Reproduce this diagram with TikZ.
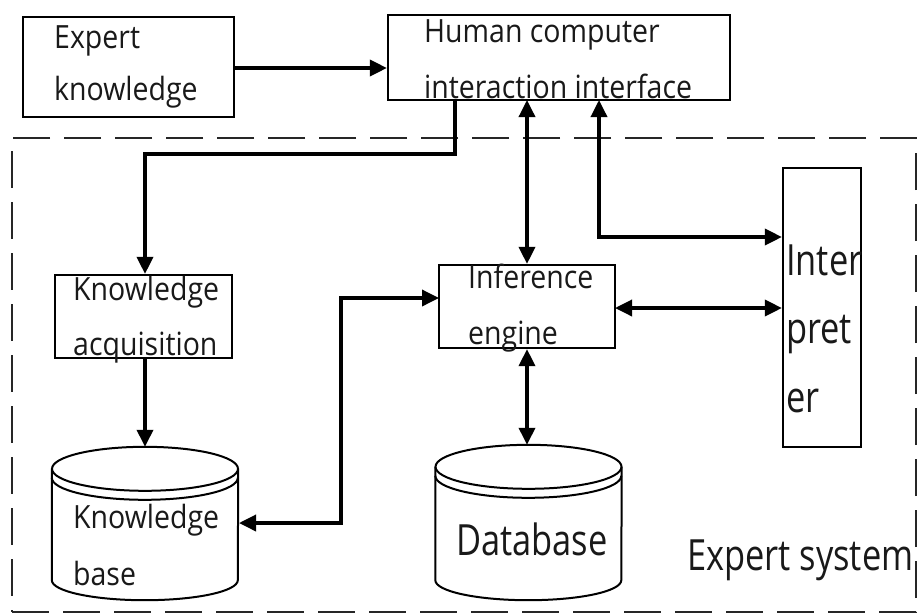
\documentclass[tikz,border=0pt]{standalone}
\usepackage{fontspec}
\setmainfont{Open Sans}
\newfontfamily\lblfont{Open Sans}[FakeStretch=0.89]
\newfontfamily\bigfont{Open Sans}[FakeStretch=0.8]
\usetikzlibrary{arrows.meta,calc}

\tikzset{
  box/.style={draw=black, line width=2.2pt, inner sep=0pt, rectangle},
  conn/.style={line width=3.5pt, draw=black},
  tip/.style={-{Triangle[length=17pt,width=16pt]}},
  tips/.style={{Triangle[length=17pt,width=16pt]}-{Triangle[length=17pt,width=16pt]}},
  lbl/.style={anchor=base west, inner sep=0pt, text=black!90,
    font=\lblfont\fontsize{32pt}{38pt}\selectfont},
  biglbl/.style={anchor=base west, inner sep=0pt, text=black!90,
    font=\bigfont\fontsize{43pt}{50pt}\selectfont},
  drumzone/.style={inner sep=0pt, minimum width=186pt, minimum height=153pt},
  frame/.style={draw=black!85, line width=2.4pt, dash pattern=on 37pt off 14pt}
}

% storage drum: top ellipse, a second front rim, sides and a rounded bottom
\newcommand\drawdrum[1]{%
  \draw[line width=2pt] ([yshift=-22pt]#1.north) ellipse [x radius=93pt, y radius=22pt];
  \draw[line width=2pt] ([yshift=-31pt]#1.north west)
     arc [start angle=180, end angle=360, x radius=93pt, y radius=22pt];
  \draw[line width=2pt] ([yshift=-22pt]#1.north west) -- ([yshift=20pt]#1.south west)
     arc [start angle=180, end angle=360, x radius=93pt, y radius=20pt]
     -- ([yshift=-22pt]#1.north east);
}

\begin{document}
\begin{tikzpicture}[x=1pt, y=-1pt]
  \useasboundingbox[fill=white] (0,0) rectangle (917,614);

  % expert system boundary
  \node[frame, inner sep=0pt, minimum width=904pt, minimum height=474pt] (esys) at (464,375) {};

  % boxes
  \node[box, minimum width=211pt, minimum height=100pt] (ek)  at (128.5,67) {};
  \node[box, minimum width=342pt, minimum height=85pt]  (hci) at (559,57.5) {};
  \node[box, minimum width=177pt, minimum height=83pt]  (ka)  at (143.5,316.5) {};
  \node[box, minimum width=176pt, minimum height=83pt]  (ie)  at (527,306.5) {};
  \node[box, minimum width=78pt,  minimum height=279pt] (ip)  at (822,307.5) {};

  % drums
  \node[drumzone] (kb) at (145,523.5) {};
  \node[drumzone, minimum height=155pt] (db) at (528.5,522.5) {};
  \drawdrum{kb}
  \drawdrum{db}

  % labels
  \node[lbl] (ek1) at (54,48)  {Expert};
  \node[lbl] (ek2) at (54,100) {knowledge};
  \node[lbl] (hci1) at (424,42) {Human computer};
  \node[lbl] (hci2) at (424,98) {interaction interface};
  \node[lbl] (ka1) at (73,300) {Knowledge};
  \node[lbl] (ka2) at (73,355) {acquisition};
  \node[lbl] (ie1) at (468,288) {Inference};
  \node[lbl] (ie2) at (468,344) {engine};
  \node[lbl] (kb1) at (73,528) {Knowledge};
  \node[lbl] (kb2) at (73,585) {base};
  \node[biglbl] (ip1) at (786,275) {Inter};
  \node[biglbl] (ip2) at (786,343) {pret};
  \node[biglbl] (ip3) at (786,412) {er};
  \node[biglbl] (dbl) at (456,555) {Database};
  \node[biglbl] (esl) at (687,570) {Expert system};

  % routing points
  \coordinate (hciL) at (455,100);
  \coordinate (hciM) at (527,100);
  \coordinate (hciR) at (599,100);
  \coordinate (ieW) at (439,298);
  \coordinate (ieE) at (615,308);
  \coordinate (kbE) at (239,523);

  % connectors
  \draw[conn, tip] (ek.east |- 0,68) -- (hci.west |- 0,68);
  \draw[conn, tip] (hciL) |- (145,154) -- (ka.north -| 145,0);
  \draw[conn, tip] (ka.south -| 145,0) -- (kb.north);
  \draw[conn, tips] (hciM) -- (ie.north -| 527,0);
  \draw[conn, tips] (hciR) |- (ip.west |- 0,237);
  \draw[conn, tips] (ieE) -- (ip.west |- ieE);
  \draw[conn, tips] (ie.south -| 527,0) -- (db.north -| 527,0);
  \draw[conn, tips] (ieW) -| (341,523) -- (kbE);
\end{tikzpicture}
\end{document}
